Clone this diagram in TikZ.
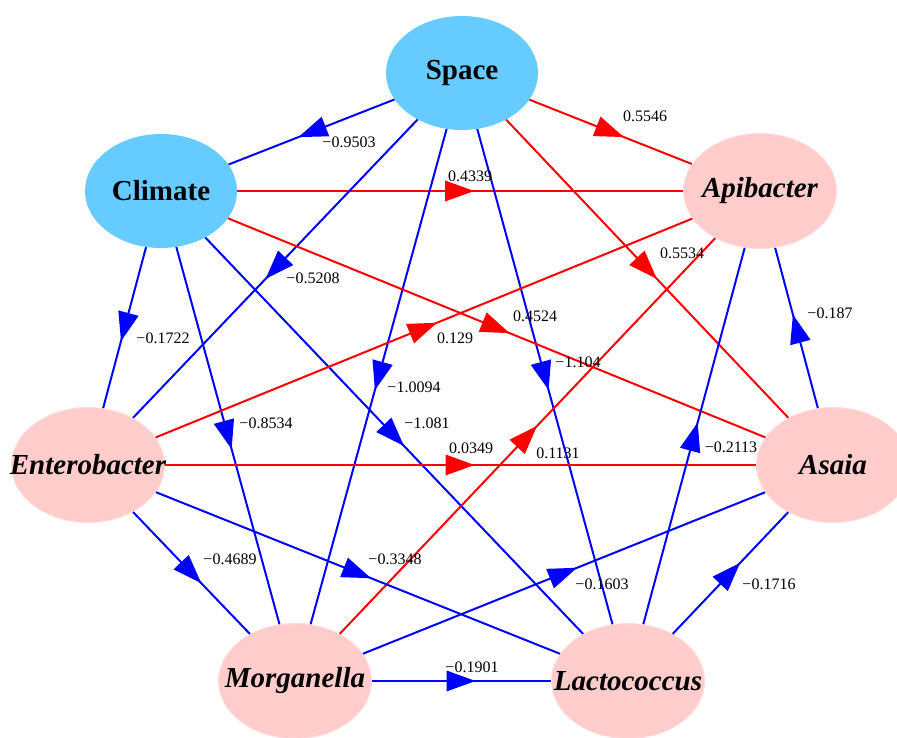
\documentclass[tikz,border=0pt]{standalone}
\usepackage{fontspec}
\setmainfont{Liberation Serif}
\usetikzlibrary{decorations.markings,shapes.geometric}
\definecolor{nodeblue}{HTML}{66CCFF}
\definecolor{nodepink}{HTML}{FFCCCC}
\definecolor{nodepinkline}{HTML}{FFDEDE}
\definecolor{edgeblue}{HTML}{0000FF}
\definecolor{edgered}{HTML}{FF0000}
\begin{document}
\begin{tikzpicture}[x=1pt,y=-1pt,
  envnode/.style={ellipse, fill=nodeblue, minimum width=152pt, minimum height=114pt,
    inner sep=0pt, font=\fontsize{29}{30}\selectfont\bfseries},
  bugnode/.style={ellipse, fill=nodepink, draw=nodepinkline, line width=1pt,
    minimum width=153pt, minimum height=115pt, inner sep=0pt,
    font=\fontsize{29}{30}\selectfont\bfseries\itshape},
  midarrow/.style={postaction={decorate}, decoration={markings,
    mark=at position 0.5 with {\fill (14pt,0pt) -- (-15pt,10.5pt) -- (-15pt,-10.5pt) -- cycle;}}},
  posedge/.style={color=edgered, line width=2pt, midarrow},
  negedge/.style={color=edgeblue, line width=2pt, midarrow},
  lab/.style={font=\fontsize{16}{18}\selectfont, inner sep=0pt, text=black}
]
\useasboundingbox (0,0) rectangle (897,738);

% nodes
\node[envnode] (space) at (462,73) {\makebox[0pt]{Space}};
\node[envnode] (climate) at (161,191) {\makebox[0pt]{Climate}};
\node[bugnode] (apib) at (760,191) {\makebox[0pt]{Apibacter}};
\node[bugnode] (entero) at (88,465) {\makebox[0pt]{Enterobacter}};
\node[bugnode] (asaia) at (833,465) {\makebox[0pt]{Asaia}};
\node[bugnode] (morg) at (295,681) {\makebox[0pt]{Morganella}};
\node[bugnode] (lacto) at (628,681) {\makebox[0pt]{Lactococcus}};

% edges
\draw[negedge] (space) -- (climate);
\draw[posedge] (space) -- (apib);
\draw[posedge] (climate) -- (apib);
\draw[negedge] (space) -- (entero);
\draw[posedge] (space) -- (asaia);
\draw[negedge] (space) -- (morg);
\draw[negedge] (space) -- (lacto);
\draw[posedge] (climate) -- (asaia);
\draw[negedge] (climate) -- (entero);
\draw[negedge] (climate) -- (morg);
\draw[negedge] (climate) -- (lacto);
\draw[posedge] (entero) -- (apib);
\draw[posedge] (entero) -- (asaia);
\draw[posedge] (morg) -- (apib);
\draw[negedge] (entero) -- (morg);
\draw[negedge] (entero) -- (lacto);
\draw[negedge] (morg) -- (asaia);
\draw[negedge] (morg) -- (lacto);
\draw[negedge] (lacto) -- (asaia);
\draw[negedge] (lacto) -- (apib);
\draw[negedge] (asaia) -- (apib);

% labels
\node[lab] (l1) at (349,142) {−0.9503};
\node[lab] (l2) at (645,116) {0.5546};
\node[lab] (l3) at (470,176) {0.4339};
\node[lab] (l4) at (313,278) {−0.5208};
\node[lab] (l5) at (682,253) {0.5534};
\node[lab] (l6) at (414,387) {−1.0094};
\node[lab] (l7) at (578,362) {−1.104};
\node[lab] (l8) at (535,316) {0.4524};
\node[lab] (l9) at (163,338) {−0.1722};
\node[lab] (l10) at (266,423) {−0.8534};
\node[lab] (l11) at (427,423) {−1.081};
\node[lab] (l12) at (455,338) {0.129};
\node[lab] (l13) at (471,448) {0.0349};
\node[lab] (l14) at (558,453) {0.1131};
\node[lab] (l15) at (230,559) {−0.4689};
\node[lab] (l16) at (395,559) {−0.3348};
\node[lab] (l17) at (602,584) {−0.1603};
\node[lab] (l18) at (472,667) {−0.1901};
\node[lab] (l19) at (769,584) {−0.1716};
\node[lab] (l20) at (731,447) {−0.2113};
\node[lab] (l21) at (830,313) {−0.187};
\end{tikzpicture}
\end{document}
